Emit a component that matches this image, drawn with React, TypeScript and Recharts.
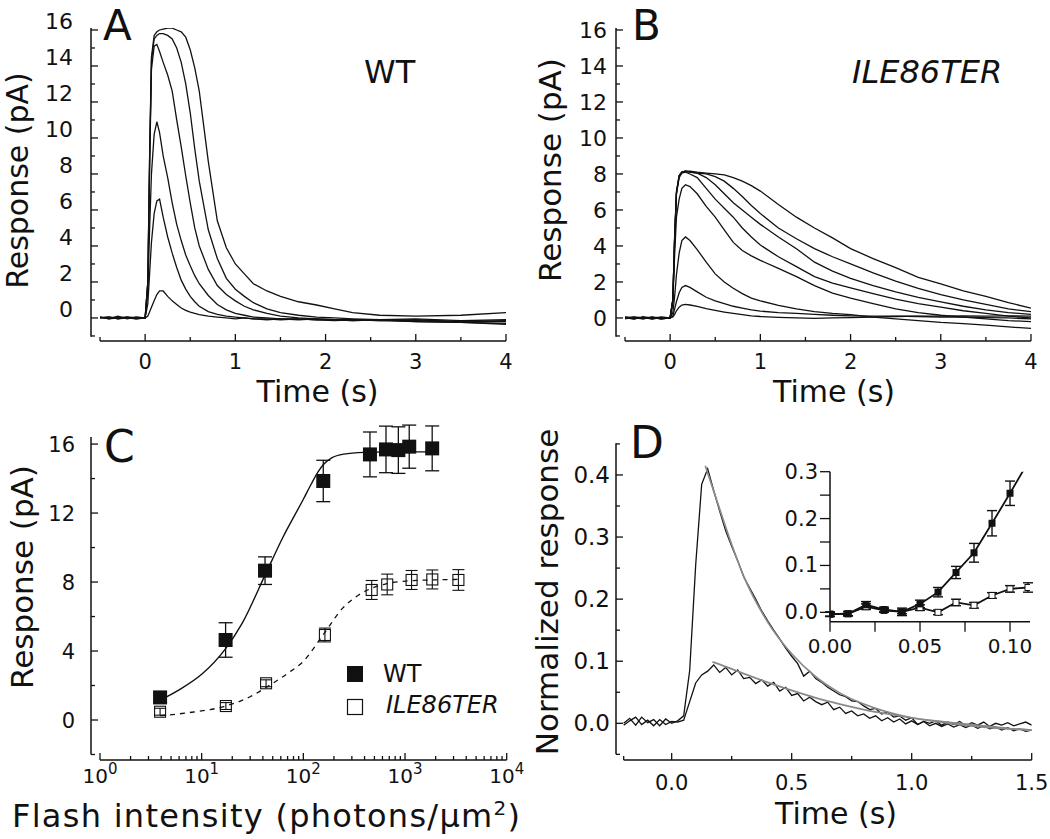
import React from 'react';
import { LineChart, ComposedChart, Line, Scatter, ErrorBar, XAxis, YAxis, ReferenceLine } from 'recharts';

const FONT = '"DejaVu Sans", Verdana, sans-serif';
const INK = '#111';
const FIT_GREY = '#8a8a8a';

// ---------- A: WT flash responses (pA) ----------
const timeA = [-0.5, -0.4, -0.3, -0.2, -0.1, 0, 0.03, 0.05, 0.07, 0.1, 0.13, 0.16, 0.2, 0.25, 0.3, 0.35, 0.4, 0.45, 0.5, 0.55, 0.6, 0.7, 0.8, 0.9, 1.0, 1.1, 1.2, 1.35, 1.5, 1.7, 1.9, 2.1, 2.3, 2.6, 3.0, 3.5, 4.0];
const wtA1 = [0, 0.05, -0.05, 0, 0.05, 0, 0.1, 0.35, 0.6, 0.95, 1.3, 1.5, 1.5, 1.2, 0.95, 0.75, 0.55, 0.42, 0.32, 0.25, 0.18, 0.1, 0.05, 0.0, -0.05, 0, -0.05, -0.1, -0.05, -0.1, -0.05, -0.1, -0.15, -0.1, -0.05, -0.15, -0.1];
const wtA2 = [0.05, -0.05, 0, 0.05, 0, 0, 0.8, 2.5, 4.2, 5.8, 6.5, 6.6, 5.6, 4.5, 3.6, 2.8, 2.1, 1.6, 1.2, 0.9, 0.65, 0.35, 0.2, 0.1, 0.05, 0, -0.05, -0.05, -0.1, -0.05, -0.1, -0.15, -0.1, -0.15, -0.1, -0.2, -0.15];
const wtA3 = [0, 0.05, 0, 0.05, 0, 0, 1.5, 5.0, 8.0, 10.2, 10.9, 10.3, 9.0, 7.8, 6.4, 5.2, 4.3, 3.5, 2.9, 2.35, 1.9, 1.25, 0.75, 0.45, 0.25, 0.15, 0.05, 0, -0.05, -0.05, -0.1, -0.1, -0.15, -0.1, -0.2, -0.25, -0.35];
const wtA4 = [0.05, 0, 0.05, 0, -0.05, 0, 2.0, 8.5, 13.8, 15.1, 15.2, 14.8, 14.2, 13.5, 12.6, 11.0, 9.5, 7.9, 6.4, 5.0, 4.0, 2.7, 1.8, 1.3, 0.95, 0.65, 0.45, 0.25, 0.1, 0, -0.05, -0.1, -0.1, -0.15, -0.2, -0.25, -0.3];
const wtA5 = [0, 0.05, -0.05, 0.05, -0.05, 0, 2.0, 9.0, 14.3, 15.5, 15.7, 15.8, 15.8, 15.7, 15.5, 15.0, 14.2, 13.0, 11.4, 9.4, 7.6, 4.9, 3.3, 2.2, 1.6, 1.2, 0.85, 0.5, 0.3, 0.15, 0.05, 0, -0.05, -0.1, -0.15, -0.2, -0.2];
const wtA6 = [0.05, -0.05, 0.1, -0.05, 0.05, 0, 2.0, 9.0, 14.5, 15.7, 15.9, 16.0, 16.05, 16.1, 16.1, 16.0, 15.9, 15.6, 14.9, 13.9, 12.6, 8.7, 5.4, 3.9, 3.0, 2.45, 1.9, 1.5, 1.2, 0.9, 0.72, 0.5, 0.3, 0.15, 0.1, 0.15, 0.3];

// ---------- B: ILE86TER flash responses (pA) ----------
const timeB = [-0.5, -0.4, -0.3, -0.2, -0.1, 0, 0.03, 0.05, 0.07, 0.1, 0.13, 0.17, 0.22, 0.3, 0.4, 0.5, 0.6, 0.7, 0.8, 0.9, 1.0, 1.2, 1.4, 1.6, 1.8, 2.0, 2.25, 2.5, 2.75, 3.0, 3.25, 3.5, 3.75, 4.0];
const mutB1 = [0, -0.05, 0.05, 0, 0.05, 0, 0.05, 0.2, 0.4, 0.6, 0.72, 0.75, 0.72, 0.65, 0.52, 0.42, 0.33, 0.25, 0.18, 0.12, 0.08, 0.03, 0.0, -0.02, 0.0, 0.02, 0.05, 0.08, 0.1, 0.1, 0.12, 0.1, 0.12, 0.1];
const mutB2 = [-0.05, 0.05, 0, 0.05, -0.05, 0, 0.1, 0.5, 0.9, 1.4, 1.7, 1.8, 1.7, 1.45, 1.15, 0.95, 0.8, 0.65, 0.55, 0.45, 0.38, 0.3, 0.25, 0.2, 0.15, 0.12, 0.1, 0.1, 0.08, 0.05, 0.05, 0.02, 0.0, -0.05];
const mutB3 = [0, 0.05, 0, -0.05, 0.05, 0, 0.3, 1.2, 2.4, 3.6, 4.3, 4.5, 4.3, 3.8, 3.1, 2.45, 2.0, 1.65, 1.35, 1.1, 0.95, 0.7, 0.5, 0.35, 0.25, 0.18, 0.05, -0.05, -0.15, -0.25, -0.32, -0.4, -0.5, -0.58];
const mutB4 = [0.05, 0, -0.05, 0.05, 0, 0, 0.9, 3.5, 5.6, 6.6, 7.2, 7.4, 7.3, 6.9, 6.2, 5.6, 4.9, 4.2, 3.75, 3.45, 3.2, 2.75, 2.3, 1.8, 1.38, 1.1, 0.8, 0.5, 0.3, 0.15, 0.05, -0.05, -0.15, -0.2];
const mutB5 = [0, -0.05, 0.05, 0, -0.05, 0, 1.0, 4.4, 6.9, 7.8, 8.05, 8.1, 8.0, 7.8, 7.2, 6.6, 6.1, 5.6, 5.0, 4.5, 4.05, 3.4, 2.85, 2.3, 1.93, 1.67, 1.35, 1.05, 0.8, 0.6, 0.4, 0.25, 0.1, 0.0];
const mutB6 = [0.05, 0, 0.05, -0.05, 0, 0, 1.0, 4.4, 6.9, 7.9, 8.1, 8.15, 8.1, 8.05, 7.8, 7.4, 6.9, 6.4, 6.0, 5.6, 5.2, 4.5, 3.85, 3.1, 2.6, 2.2, 1.8, 1.45, 1.15, 0.9, 0.65, 0.45, 0.3, 0.2];
const mutB7 = [0, 0.05, -0.05, 0.05, -0.05, 0, 1.0, 4.5, 7.0, 7.9, 8.1, 8.15, 8.1, 8.05, 8.0, 7.85, 7.6, 7.2, 6.75, 6.25, 5.8, 5.0, 4.4, 3.85, 3.4, 3.0, 2.5, 2.05, 1.65, 1.3, 1.0, 0.75, 0.5, 0.35];
const mutB8 = [0.05, -0.05, 0.05, -0.05, 0.02, 0, 1.0, 4.5, 7.0, 7.9, 8.1, 8.15, 8.15, 8.1, 8.05, 8.0, 7.95, 7.8, 7.6, 7.35, 7.05, 6.3, 5.6, 5.0, 4.45, 3.85, 3.3, 2.8, 2.25, 1.9, 1.5, 1.2, 0.85, 0.55];

// ---------- C: intensity-response ----------
const intensWT = [3.9, 17.2, 42, 157, 452, 650, 860, 1100, 1850];
const respWT = [1.31, 4.64, 8.66, 13.86, 15.4, 15.69, 15.65, 15.85, 15.75];
const errWT = [0.3, 1.0, 0.8, 1.2, 1.3, 1.35, 1.35, 1.25, 1.3];
const intensMut = [3.9, 17.3, 43, 163, 470, 668, 1160, 1855, 3350];
const respMut = [0.48, 0.81, 2.13, 4.93, 7.54, 7.86, 8.12, 8.15, 8.12];
const errMut = [0.2, 0.2, 0.2, 0.4, 0.55, 0.6, 0.55, 0.55, 0.6];
const fitWTI = [3.9, 6, 10, 17, 25, 42, 63, 100, 120, 140, 157, 190, 250, 400, 700, 1200, 2000];
const fitWTR = [1.15, 1.75, 2.65, 4.1, 5.6, 8.4, 10.6, 12.8, 13.7, 14.4, 14.8, 15.2, 15.42, 15.52, 15.55, 15.55, 15.55];
const fitMutI = [3.9, 8, 17, 30, 42, 70, 100, 157, 245, 350, 452, 650, 1000, 1800, 3400];
const fitMutR = [0.25, 0.45, 0.8, 1.35, 1.85, 2.7, 3.4, 4.95, 6.5, 7.25, 7.6, 7.9, 8.05, 8.12, 8.15];

// ---------- D: normalized responses ----------
const timeD = [-0.2, -0.175, -0.15, -0.125, -0.1, -0.075, -0.05, -0.025, 0, 0.025, 0.05, 0.075, 0.1, 0.125, 0.15, 0.175, 0.2, 0.225, 0.25, 0.275, 0.3, 0.325, 0.35, 0.375, 0.4, 0.425, 0.45, 0.475, 0.5, 0.525, 0.55, 0.575, 0.6, 0.625, 0.65, 0.675, 0.7, 0.725, 0.75, 0.775, 0.8, 0.825, 0.85, 0.875, 0.9, 0.925, 0.95, 0.975, 1.0, 1.025, 1.05, 1.075, 1.1, 1.125, 1.15, 1.175, 1.2, 1.225, 1.25, 1.275, 1.3, 1.325, 1.35, 1.375, 1.4, 1.425, 1.45, 1.475, 1.5];
const normWT = [0.0, 0.008, -0.003, 0.01, 0.001, 0.006, -0.004, 0.007, 0.0, 0.004, 0.012, 0.085, 0.255, 0.385, 0.41, 0.375, 0.342, 0.31, 0.285, 0.262, 0.236, 0.218, 0.2, 0.181, 0.165, 0.15, 0.136, 0.121, 0.108, 0.096, 0.076, 0.084, 0.072, 0.066, 0.058, 0.052, 0.046, 0.043, 0.036, 0.035, 0.028, 0.022, 0.024, 0.015, 0.018, 0.01, 0.012, 0.005, 0.009, -0.002, 0.003, 0.0, 0.004, -0.003, 0.002, -0.002, 0.003, -0.004, 0.001, -0.003, 0.002, -0.005, 0.0, -0.003, 0.001, -0.004, -0.001, 0.002, -0.003];
const normMut = [-0.003, 0.004, 0.01, -0.002, 0.005, -0.004, 0.006, -0.002, 0.003, 0.002, 0.005, 0.035, 0.065, 0.078, 0.084, 0.094, 0.082, 0.09, 0.078, 0.086, 0.072, 0.074, 0.064, 0.07, 0.06, 0.066, 0.052, 0.058, 0.045, 0.048, 0.036, 0.042, 0.035, 0.03, 0.034, 0.022, 0.026, 0.016, 0.02, 0.012, 0.015, 0.008, 0.012, 0.004, 0.009, 0.002, 0.007, -0.001, 0.004, -0.002, 0.003, -0.004, 0.0, -0.005, -0.001, -0.006, -0.002, -0.007, -0.003, -0.008, -0.004, -0.009, -0.006, -0.011, -0.007, -0.012, -0.009, -0.013, -0.011];
const fitWtT = [0.14, 0.2, 0.25, 0.3, 0.4, 0.5, 0.6, 0.7, 0.8, 0.9, 1.0, 1.1, 1.2, 1.3, 1.4, 1.5];
const fitWtV = [0.415, 0.345, 0.288, 0.237, 0.163, 0.112, 0.075, 0.049, 0.031, 0.018, 0.009, 0.003, -0.002, -0.006, -0.009, -0.011];
const fitMutT = [0.17, 0.2, 0.3, 0.4, 0.5, 0.6, 0.7, 0.8, 0.9, 1.0, 1.1, 1.2, 1.3, 1.4, 1.5];
const fitMutV = [0.099, 0.095, 0.08, 0.066, 0.053, 0.041, 0.031, 0.022, 0.015, 0.009, 0.004, 0.0, -0.004, -0.008, -0.011];

// inset: onset of the normalized responses
const insetT = [0, 0.01, 0.02, 0.03, 0.04, 0.05, 0.06, 0.07, 0.08, 0.09, 0.1, 0.11];
const insetWT = [-0.004, -0.003, 0.016, 0.006, 0.001, 0.018, 0.043, 0.085, 0.127, 0.19, 0.254, 0.32];
const insetWTErr = [0.005, 0.005, 0.007, 0.005, 0.008, 0.008, 0.01, 0.013, 0.02, 0.027, 0.026, 0];
const insetMut = [-0.004, -0.003, 0.012, 0.004, 0.001, 0.01, 0.0, 0.021, 0.015, 0.036, 0.05, 0.053];
const insetMutErr = [0.004, 0.004, 0.006, 0.004, 0.004, 0.006, 0.005, 0.007, 0.006, 0.006, 0.007, 0.01];

// tick positions
const ticksTraceX = [-0.5, 0, 0.5, 1, 1.5, 2, 2.5, 3, 3.5, 4];
const ticksTraceY = [-1, 0, 1, 2, 3, 4, 5, 6, 7, 8, 9, 10, 11, 12, 13, 14, 15, 16];
const ticksCX = [1, 2, 3, 4, 5, 6, 7, 8, 9, 10, 20, 30, 40, 50, 60, 70, 80, 90, 100, 200, 300, 400, 500, 600, 700, 800, 900, 1000, 2000, 3000, 4000, 5000, 6000, 7000, 8000, 9000, 10000];
const ticksCY = [-2, 0, 2, 4, 6, 8, 10, 12, 14, 16];
const ticksDX = [-0.2, 0, 0.25, 0.5, 0.75, 1, 1.25, 1.5];
const ticksDY = [-0.05, 0, 0.05, 0.1, 0.15, 0.2, 0.25, 0.3, 0.35, 0.4, 0.45];
const ticksInX = [0, 0.025, 0.05, 0.075, 0.1];
const ticksInY = [0, 0.05, 0.1, 0.15, 0.2, 0.25, 0.3];

const rowsA = timeA.map((t, i) => ({ t, a1: wtA1[i], a2: wtA2[i], a3: wtA3[i], a4: wtA4[i], a5: wtA5[i], a6: wtA6[i] }));
const rowsB = timeB.map((t, i) => ({ t, b1: mutB1[i], b2: mutB2[i], b3: mutB3[i], b4: mutB4[i], b5: mutB5[i], b6: mutB6[i], b7: mutB7[i], b8: mutB8[i] }));
const ptsWT = intensWT.map((x, i) => ({ x, y: respWT[i], e: errWT[i] }));
const ptsMut = intensMut.map((x, i) => ({ x, y: respMut[i], e: errMut[i] }));
const fitWT = fitWTI.map((x, i) => ({ x, y: fitWTR[i] }));
const fitMut = fitMutI.map((x, i) => ({ x, y: fitMutR[i] }));
const rowsDWT = timeD.map((t, i) => ({ t, v: normWT[i] }));
const rowsDMut = timeD.map((t, i) => ({ t, v: normMut[i] }));
const fitDWT = fitWtT.map((t, i) => ({ t, v: fitWtV[i] }));
const fitDMut = fitMutT.map((t, i) => ({ t, v: fitMutV[i] }));
const inWT = insetT.map((t, i) => ({ t, v: insetWT[i], e: insetWTErr[i] }));
const inMut = insetT.map((t, i) => ({ t, v: insetMut[i], e: insetMutErr[i] }));

const near = (list: number[], v: number) => list.some((m) => Math.abs(m - v) < 1e-6);

type TickOpts = {
  majors: number[];
  majorLen: number;
  minorLen: number;
  inward: boolean;
  gap: number;
  dy?: number;
  size: number;
  fmt: (v: number) => React.ReactNode;
};

// origin-style ticks: drawn by hand so minor ticks get no label
const xTick = (o: TickOpts) => (p: any) => {
  const v = p.payload.value;
  const major = near(o.majors, v);
  const len = major ? o.majorLen : o.minorLen;
  const end = o.inward ? p.y - len : p.y + len;
  return (
    <g>
      <line x1={p.x} x2={p.x} y1={p.y} y2={end} stroke={INK} strokeWidth={1.3} />
      {major && (
        <text x={p.x} y={p.y + o.gap} textAnchor="middle" fontSize={o.size} fill={INK} fontFamily={FONT}>
          {o.fmt(v)}
        </text>
      )}
    </g>
  );
};

const yTick = (o: TickOpts) => (p: any) => {
  const v = p.payload.value;
  const major = near(o.majors, v);
  const len = major ? o.majorLen : o.minorLen;
  const end = o.inward ? p.x + len : p.x - len;
  return (
    <g>
      <line x1={p.x} x2={end} y1={p.y} y2={p.y} stroke={INK} strokeWidth={1.3} />
      {major && (
        <text x={p.x - o.gap} y={p.y + (o.dy ?? 8)} textAnchor="end" fontSize={o.size} fill={INK} fontFamily={FONT}>
          {o.fmt(v)}
        </text>
      )}
    </g>
  );
};

const axisBits = { tickLine: false, axisLine: false, tickSize: 0, tickMargin: 0, interval: 0 as const, allowDataOverflow: true };
const axisStroke = { stroke: INK, strokeWidth: 1.5, ifOverflow: 'visible' as const };

const intFmt = (v: number) => String(v);
const powFmt = (v: number) => (
  <>
    <tspan>10</tspan>
    <tspan dy={-9} fontSize={15}>{Math.round(Math.log10(v))}</tspan>
  </>
);

const fillSquare = (s: number) => (p: any) => <rect x={p.cx - s / 2} y={p.cy - s / 2} width={s} height={s} fill={INK} />;
const openSquare = (s: number) => (p: any) => (
  <rect x={p.cx - s / 2} y={p.cy - s / 2} width={s} height={s} fill="none" stroke={INK} strokeWidth={1.1} />
);

const TraceChart = ({ rows, keys, yGap, yDy }: { rows: any[]; keys: string[]; yGap: number; yDy: number }) => (
  <LineChart width={525} height={420} data={rows} margin={{ top: 28, right: 19, bottom: 0, left: 0 }}>
    <XAxis
      dataKey="t"
      type="number"
      domain={[-0.6, 4]}
      ticks={ticksTraceX}
      height={79}
      tick={xTick({ majors: [0, 1, 2, 3, 4], majorLen: 7, minorLen: 4, inward: true, gap: 28, size: 21, fmt: intFmt })}
      {...axisBits}
    />
    <YAxis
      type="number"
      domain={[-1.28, 16.11]}
      ticks={ticksTraceY}
      width={91}
      tick={yTick({ majors: [0, 2, 4, 6, 8, 10, 12, 14, 16], majorLen: 7, minorLen: 4, inward: true, gap: yGap, dy: yDy, size: 22, fmt: intFmt })}
      {...axisBits}
    />
    <ReferenceLine segment={[{ x: -0.6, y: -1.05 }, { x: -0.6, y: 16.11 }]} {...axisStroke} />
    <ReferenceLine segment={[{ x: -0.5, y: -1.28 }, { x: 4, y: -1.28 }]} {...axisStroke} />
    {keys.map((k) => (
      <Line key={k} dataKey={k} stroke={INK} strokeWidth={1.3} dot={false} activeDot={false} isAnimationActive={false} />
    ))}
  </LineChart>
);

const IntensityChart = () => (
  <ComposedChart width={525} height={419} margin={{ top: 17, right: 18.3, bottom: 0, left: 0 }}>
    <XAxis
      dataKey="x"
      type="number"
      scale="log"
      domain={[0.816, 10000]}
      ticks={ticksCX}
      height={79}
      tick={xTick({ majors: [1, 10, 100, 1000, 10000], majorLen: 7, minorLen: 4, inward: true, gap: 23, size: 20, fmt: powFmt })}
      {...axisBits}
    />
    <YAxis
      dataKey="y"
      type="number"
      domain={[-2.319, 16.41]}
      ticks={ticksCY}
      width={91}
      tick={yTick({ majors: [0, 4, 8, 12, 16], majorLen: 7, minorLen: 4, inward: true, gap: 16, dy: 8, size: 21, fmt: intFmt })}
      {...axisBits}
    />
    <ReferenceLine segment={[{ x: 0.816, y: -2 }, { x: 0.816, y: 16.41 }]} {...axisStroke} />
    <ReferenceLine segment={[{ x: 1, y: -2.319 }, { x: 10000, y: -2.319 }]} {...axisStroke} />
    <Line data={fitWT} dataKey="y" type="monotone" stroke={INK} strokeWidth={1.4} dot={false} activeDot={false} isAnimationActive={false} />
    <Line data={fitMut} dataKey="y" type="monotone" stroke={INK} strokeWidth={1.3} strokeDasharray="5 5" dot={false} activeDot={false} isAnimationActive={false} />
    <Scatter data={ptsMut} shape={openSquare(11)} isAnimationActive={false}>
      <ErrorBar dataKey="e" direction="y" width={6} stroke={INK} strokeWidth={1.1} />
    </Scatter>
    <Scatter data={ptsWT} shape={fillSquare(14)} isAnimationActive={false}>
      <ErrorBar dataKey="e" direction="y" width={7} stroke={INK} strokeWidth={1.3} />
    </Scatter>
  </ComposedChart>
);

const NormChart = () => (
  <ComposedChart width={525} height={419} margin={{ top: 23.3, right: 18.3, bottom: 0, left: 0 }}>
    <XAxis
      dataKey="t"
      type="number"
      domain={[-0.232, 1.5]}
      ticks={ticksDX}
      height={79}
      tick={xTick({ majors: [0, 0.5, 1, 1.5], majorLen: 7, minorLen: 4, inward: true, gap: 30, size: 21, fmt: (v) => v.toFixed(1) })}
      {...axisBits}
    />
    <YAxis
      dataKey="v"
      type="number"
      domain={[-0.0591, 0.451]}
      ticks={ticksDY}
      width={91}
      tick={yTick({ majors: [0, 0.1, 0.2, 0.3, 0.4], majorLen: 7, minorLen: 4, inward: true, gap: 6, dy: 8, size: 23, fmt: (v) => v.toFixed(1) })}
      {...axisBits}
    />
    <ReferenceLine segment={[{ x: -0.232, y: -0.05 }, { x: -0.232, y: 0.451 }]} {...axisStroke} />
    <ReferenceLine segment={[{ x: -0.2, y: -0.0591 }, { x: 1.5, y: -0.0591 }]} {...axisStroke} />
    <Line data={rowsDMut} dataKey="v" stroke={INK} strokeWidth={1.3} dot={false} activeDot={false} isAnimationActive={false} />
    <Line data={rowsDWT} dataKey="v" stroke={INK} strokeWidth={1.3} dot={false} activeDot={false} isAnimationActive={false} />
    <Line data={fitDMut} dataKey="v" type="monotone" stroke={FIT_GREY} strokeWidth={1.7} dot={false} activeDot={false} isAnimationActive={false} />
    <Line data={fitDWT} dataKey="v" type="monotone" stroke={FIT_GREY} strokeWidth={1.7} dot={false} activeDot={false} isAnimationActive={false} />
  </ComposedChart>
);

const insetDot = (filled: boolean) => (p: any) => {
  if (p.value > 0.3) return <g key={p.index} />;
  return filled ? (
    <rect key={p.index} x={p.cx - 3.5} y={p.cy - 3.5} width={7} height={7} fill={INK} />
  ) : (
    <rect key={p.index} x={p.cx - 3} y={p.cy - 3} width={6} height={6} fill="#fff" stroke={INK} strokeWidth={1} />
  );
};

const InsetChart = () => (
  <ComposedChart width={300} height={230} margin={{ top: 31.7, right: 10, bottom: 0, left: 0 }}>
    <XAxis
      dataKey="t"
      type="number"
      domain={[0, 0.1111]}
      ticks={ticksInX}
      height={48.3}
      tick={xTick({ majors: [0, 0.05, 0.1], majorLen: 10, minorLen: 10, inward: false, gap: 31, size: 20, fmt: (v) => v.toFixed(2) })}
      {...axisBits}
    />
    <YAxis
      dataKey="v"
      type="number"
      domain={[-0.02, 0.3]}
      ticks={ticksInY}
      width={90}
      tick={yTick({ majors: [0, 0.1, 0.2, 0.3], majorLen: 10, minorLen: 10, inward: false, gap: 12, dy: 7, size: 21, fmt: (v) => v.toFixed(1) })}
      {...axisBits}
    />
    <ReferenceLine segment={[{ x: 0, y: -0.02 }, { x: 0, y: 0.3 }]} {...axisStroke} />
    <ReferenceLine segment={[{ x: 0, y: -0.02 }, { x: 0.1111, y: -0.02 }]} {...axisStroke} />
    <Line data={inMut} dataKey="v" stroke={INK} strokeWidth={1.8} dot={insetDot(false)} activeDot={false} isAnimationActive={false}>
      <ErrorBar dataKey="e" direction="y" width={5} stroke={INK} strokeWidth={1.4} />
    </Line>
    <Line data={inWT} dataKey="v" stroke={INK} strokeWidth={1.8} dot={insetDot(true)} activeDot={false} isAnimationActive={false}>
      <ErrorBar dataKey="e" direction="y" width={5} stroke={INK} strokeWidth={1.4} />
    </Line>
  </ComposedChart>
);

const Txt = ({ x, y, size, children, anchor = 'start', rot, italic, len }: any) => (
  <text
    x={x}
    y={y}
    fontSize={size}
    fill={INK}
    textAnchor={anchor}
    fontStyle={italic ? 'italic' : undefined}
    transform={rot ? `rotate(${rot} ${x} ${y})` : undefined}
    textLength={len}
    lengthAdjust={len ? 'spacing' : undefined}
  >
    {children}
  </text>
);

export default function App() {
  const abs = (left: number, top: number): React.CSSProperties => ({ position: 'absolute', left, top });
  return (
    <div style={{ position: 'absolute', left: 0, top: 0, width: 1050, height: 839, background: '#fff', fontFamily: FONT }}>
      <div style={abs(0, 0)}>
        <TraceChart rows={rowsA} keys={['a1', 'a2', 'a3', 'a4', 'a5', 'a6']} yGap={18} yDy={-1} />
      </div>
      <div style={abs(525, 0)}>
        <TraceChart rows={rowsB} keys={['b1', 'b2', 'b3', 'b4', 'b5', 'b6', 'b7', 'b8']} yGap={9} yDy={8} />
      </div>
      <div style={abs(0, 420)}>
        <IntensityChart />
      </div>
      <div style={abs(525, 420)}>
        <NormChart />
      </div>
      <div style={abs(740, 440)}>
        <InsetChart />
      </div>
      <svg width={1050} height={839} style={{ position: 'absolute', left: 0, top: 0, pointerEvents: 'none', fontFamily: FONT }}>
        <Txt x={103} y={39.5} size={42}>A</Txt>
        <Txt x={632} y={39.5} size={42}>B</Txt>
        <Txt x={104} y={462} size={44}>C</Txt>
        <Txt x={630} y={458} size={44}>D</Txt>
        <Txt x={364} y={83} size={32}>WT</Txt>
        <Txt x={852} y={83} size={32} italic>ILE86TER</Txt>

        <Txt x={28} y={180.5} size={30} anchor="middle" rot={-90}>Response (pA)</Txt>
        <Txt x={561} y={170} size={31} anchor="middle" rot={-90}>Response (pA)</Txt>
        <Txt x={33} y={577} size={31} anchor="middle" rot={-90}>Response (pA)</Txt>
        <Txt x={558} y={592} size={31} anchor="middle" rot={-90}>Normalized response</Txt>

        <Txt x={317.5} y={402} size={30} anchor="middle">Time (s)</Txt>
        <Txt x={834} y={402} size={30} anchor="middle">Time (s)</Txt>
        <Txt x={836} y={824} size={30} anchor="middle">Time (s)</Txt>
        <Txt x={266} y={827} size={32} anchor="middle" len={508}>
          Flash intensity (photons/μm<tspan dy={-12} fontSize={20}>2</tspan><tspan dy={12}>)</tspan>
        </Txt>

        <rect x={347} y={666} width={16} height={16} fill={INK} />
        <Txt x={383} y={682} size={24}>WT</Txt>
        <rect x={347.5} y={699.5} width={15} height={15} fill="none" stroke={INK} strokeWidth={1.2} />
        <Txt x={386} y={713} size={24} italic>ILE86TER</Txt>
      </svg>
    </div>
  );
}
